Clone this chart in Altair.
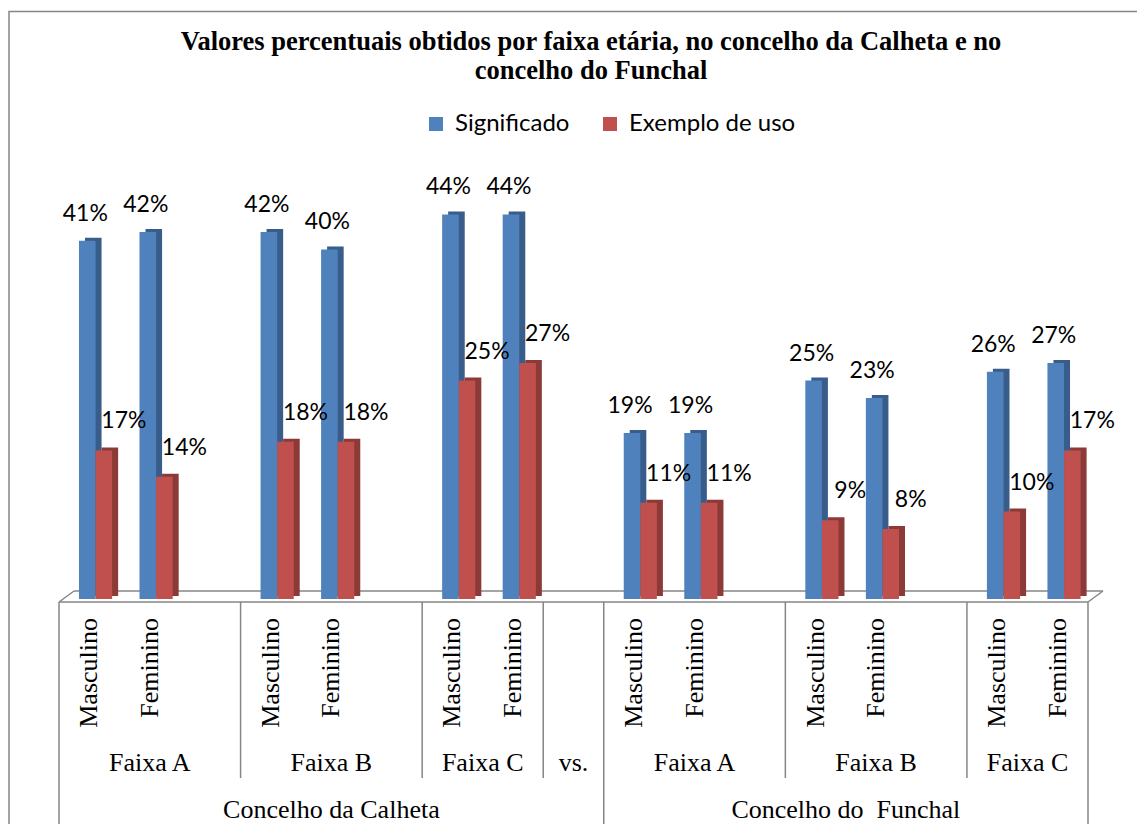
import altair as alt
import pandas as pd

# ---- data ----
slot_labels = ["Masculino", "Feminino", "",
               "Masculino", "Feminino", "",
               "Masculino", "Feminino", "",
               "Masculino", "Feminino", "",
               "Masculino", "Feminino", "",
               "Masculino", "Feminino"]
significado = [41, 42, None, 42, 40, None, 44, 44, None, 19, 19, None, 25, 23, None, 26, 27]
exemplo = [17, 14, None, 18, 18, None, 25, 27, None, 11, 11, None, 9, 8, None, 10, 17]
series_names = ["Significado", "Exemplo de uso"]
series_colors = ["#4F81BD", "#C0504D"]
series_side = ["#385D8A", "#8C3A37"]

faixa_labels = ["Faixa A", "Faixa B", "Faixa C", "vs.", "Faixa A", "Faixa B", "Faixa C"]
faixa_start = [0, 3, 6, 8, 9, 12, 15]
faixa_end = [3, 6, 8, 9, 12, 15, 17]
concelho_labels = ["Concelho da Calheta", "Concelho do\u00a0 Funchal"]
concelho_start = [0, 9]
concelho_end = [9, 17]
n_slots = len(slot_labels)

title_lines = ["Valores percentuais obtidos por faixa etária, no concelho da Calheta e no",
               "concelho do Funchal"]

# ---- layout constants (styling, in slot units / pixels) ----
W, H = 1029, 437
BAR_OFF = {"Significado": (-0.170, 0.104), "Exemplo de uso": (0.104, 0.378)}
GRAY = "#868686"
SANS = "Lato"
SERIF = "Liberation Serif"

rows = []
for i, lab in enumerate(slot_labels):
    for name, vals in zip(series_names, [significado, exemplo]):
        v = vals[i]
        if v is None:
            continue
        a, b = BAR_OFF[name]
        rows.append({"slot": i, "label": lab, "series": name, "value": v,
                     "x0": i + 0.5 + a, "x1": i + 0.5 + b, "xc": i + 0.5 + (a + b) / 2,
                     "txt": f"{v}%"})
bars = pd.DataFrame(rows)

cats = pd.DataFrame({"slot": list(range(n_slots)), "label": slot_labels})
cats["xc"] = cats["slot"] + 0.5
faixa = pd.DataFrame({"label": faixa_labels, "s": faixa_start, "e": faixa_end})
faixa["xc"] = (faixa["s"] + faixa["e"]) / 2
conc = pd.DataFrame({"label": concelho_labels, "s": concelho_start, "e": concelho_end})
conc["xc"] = (conc["s"] + conc["e"]) / 2

xs = alt.Scale(domain=[0, n_slots], range=[0, W], nice=False, zero=False)
ys = alt.Scale(domain=[0, 50], range=[H, 0], nice=False)
X = lambda f: alt.X(f, type="quantitative", scale=xs, axis=None)
Y = lambda f: alt.Y(f, type="quantitative", scale=ys, axis=None)

# outer border
border = alt.Chart(pd.DataFrame({"k": [0]})).mark_rect(
    fill="white", fillOpacity=0, stroke=GRAY, strokeWidth=1.5
).encode(x=alt.value(-50), x2=alt.value(W + 80), y=alt.value(-150.5), y2=alt.value(H + 250))

# title (two lines)
title1 = alt.Chart(pd.DataFrame({"t": [title_lines[0]]})).mark_text(
    font=SERIF, fontSize=26.5, fontWeight="bold", color="black", align="center", baseline="alphabetic"
).encode(x=alt.value(532), y=alt.value(-112), text="t:N")
title2 = alt.Chart(pd.DataFrame({"t": [title_lines[1]]})).mark_text(
    font=SERIF, fontSize=26.5, fontWeight="bold", color="black", align="center", baseline="alphabetic"
).encode(x=alt.value(532), y=alt.value(-83), text="t:N")

# floor
floor_df = pd.DataFrame({"a": [0], "b": [n_slots]})
floor_front = alt.Chart(floor_df).mark_rule(color=GRAY, strokeWidth=1.5).encode(
    x=X("a"), x2="b:Q", y=alt.value(440))
floor_back = alt.Chart(floor_df).mark_rule(color=GRAY, strokeWidth=1.5, xOffset=15, x2Offset=15).encode(
    x=X("a"), x2="b:Q", y=alt.value(429))
floor_left = alt.Chart(floor_df).mark_rule(color=GRAY, strokeWidth=1.5, x2Offset=15).encode(
    x=X("a"), x2="a:Q", y=alt.value(440), y2=alt.value(429))
floor_right = alt.Chart(floor_df).mark_rule(color=GRAY, strokeWidth=1.5, x2Offset=15).encode(
    x=X("b"), x2="b:Q", y=alt.value(440), y2=alt.value(429))

# dividers
div1 = alt.Chart(pd.DataFrame({"p": sorted(set(faixa_start + faixa_end) - set(concelho_start + concelho_end))})).mark_rule(
    color=GRAY, strokeWidth=1.5).encode(x=X("p"), y=alt.value(440), y2=alt.value(616))
div2 = alt.Chart(pd.DataFrame({"p": sorted(set(concelho_start + concelho_end))})).mark_rule(
    color=GRAY, strokeWidth=1.5).encode(x=X("p"), y=alt.value(440), y2=alt.value(668))

# bars: 3D shadow then front
shadow = alt.Chart(bars).mark_rect(xOffset=6, x2Offset=6, yOffset=-3, y2Offset=-3).encode(
    x=X("x0"), x2="x1:Q", y=Y("value"), y2=alt.datum(0),
    color=alt.condition("datum.series == 'Significado'", alt.value(series_side[0]), alt.value(series_side[1])),
)
front = alt.Chart(bars).mark_rect().encode(
    x=X("x0"), x2="x1:Q", y=Y("value"), y2=alt.datum(0),
    color=alt.Color("series:N", scale=alt.Scale(domain=series_names, range=series_colors),
                    legend=alt.Legend(title=None, orient="none", legendX=365, legendY=-50,
                                      direction="horizontal", symbolType="square", symbolSize=196,
                                      symbolStrokeWidth=0, labelFont=SANS, labelFontSize=24,
                                      labelColor="black", labelOffset=7, columnPadding=28,
                                      labelLimit=400)),
)

lab_blue = alt.Chart(bars).transform_filter("datum.series == 'Significado'").mark_text(
    font=SANS, fontSize=23, color="black", baseline="middle", dy=-27, dx=-2
).encode(x=X("xc"), y=Y("value"), text="txt:N")
lab_red = alt.Chart(bars).transform_filter("datum.series == 'Exemplo de uso'").mark_text(
    font=SANS, fontSize=23, color="black", baseline="middle", dy=-29, dx=20
).encode(x=X("xc"), y=Y("value"), text="txt:N")

# category labels
cat_text = alt.Chart(cats).transform_filter("datum.label != ''").mark_text(
    font=SERIF, fontSize=26, color="black", angle=270, align="right", baseline="middle"
).encode(x=X("xc"), y=alt.value(456), text="label:N")
faixa_text = alt.Chart(faixa).mark_text(
    font=SERIF, fontSize=26, color="black", align="center", baseline="alphabetic"
).encode(x=X("xc"), y=alt.value(609), text="label:N")
conc_text = alt.Chart(conc).mark_text(
    font=SERIF, fontSize=26, color="black", align="center", baseline="alphabetic"
).encode(x=X("xc"), y=alt.value(656), text="label:N")

chart = alt.layer(
    border, title1, title2, floor_back, floor_left, floor_right, floor_front, div1, div2,
    shadow, front, lab_blue, lab_red, cat_text, faixa_text, conc_text
).properties(
    width=W, height=H,
    background="white",
    autosize=alt.AutoSizeParams(type="none"),
    padding={"left": 51, "top": 154, "right": 49, "bottom": 225},
).configure_view(strokeWidth=0, stroke="transparent")

chart.save("out.html", embed_options={"renderer": "svg", "actions": False})
